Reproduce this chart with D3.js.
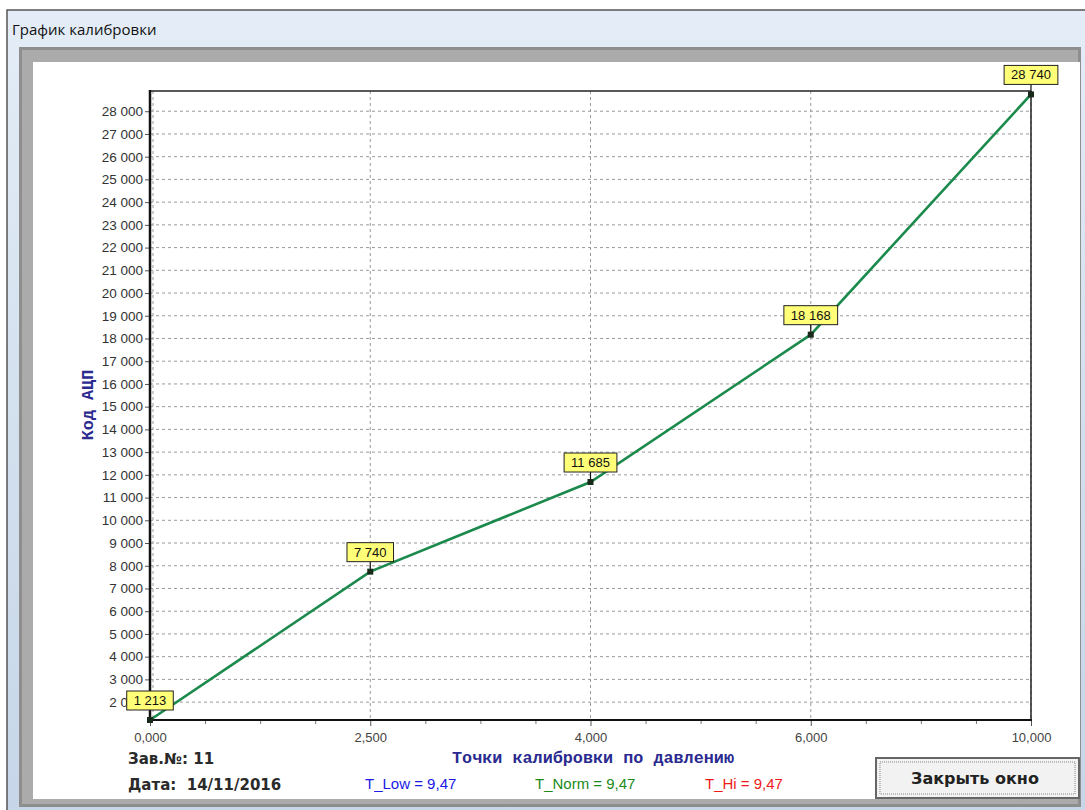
<!DOCTYPE html>
<html><head><meta charset="utf-8">
<script src="https://cdn.jsdelivr.net/npm/d3@7/dist/d3.min.js"></script>
<style>
html,body{margin:0;padding:0;background:#fff;}
svg{display:block;}
</style></head>
<body>
<svg id="c" width="1085" height="810"></svg>
<script>
// ---- data ----
const pressures = [0, 2.5, 4, 6, 10];
const codes = [1213, 7740, 11685, 18168, 28740];
const yTicks = d3.range(2000, 28001, 1000);
const windowTitle = "График калибровки";
const xTitle = "Точки калибровки по давлению";
const yTitle = "Код АЦП";
const serialText = "Зав.№: 11";
const dateText = "Дата:  14/11/2016";
const tempLabels = ["T_Low = 9,47", "T_Norm = 9,47", "T_Hi = 9,47"];
const buttonText = "Закрыть окно";

const loc = d3.formatLocale({decimal: ",", thousands: " ", grouping: [3], currency: ["", ""]});
const fmtInt = loc.format(",d");
const fmtP = loc.format(".3f");

const svg = d3.select("#c");

// ---- window chrome ----
const tg = svg.append("defs").append("linearGradient").attr("id","tb").attr("x1",0).attr("x2",0).attr("y1",0).attr("y2",1);
tg.append("stop").attr("offset","0%").attr("stop-color","#e4edf7");
tg.append("stop").attr("offset","50%").attr("stop-color","#d3e0ee");
tg.append("stop").attr("offset","100%").attr("stop-color","#c6d6e8");
svg.append("rect").attr("x",7).attr("y",10).attr("width",1085).attr("height",810).attr("fill","url(#tb)").attr("stroke","#555").attr("stroke-width",1.5);
svg.append("text").attr("x",12).attr("y",35).attr("font-family","Open Sans, Noto Sans, sans-serif").attr("font-size",15).attr("fill","#111").text(windowTitle);
svg.append("rect").attr("x",19).attr("y",47).attr("width",1062).attr("height",760).attr("fill","#8e8e8e");
svg.append("rect").attr("x",22).attr("y",50).attr("width",1056).attr("height",754).attr("fill","#ababab");
svg.append("rect").attr("x",33).attr("y",62).attr("width",1047).attr("height",737).attr("fill","#ffffff");

// ---- scales ----
const L = 150, R = 1031, T = 91, B = 720;
const x = d3.scaleLinear().domain([0, pressures.length - 1]).range([L, R]);
const y = d3.scaleLinear().domain([1213, 28890]).range([B, T]);

// grid
const grid = svg.append("g").attr("stroke","#9a9a9a").attr("stroke-width",1).attr("stroke-dasharray","3,3");
grid.selectAll("line.h").data(yTicks).join("line").attr("class","h")
  .attr("x1",L).attr("x2",R).attr("y1",d=>y(d)).attr("y2",d=>y(d));
grid.selectAll("line.v").data(d3.range(pressures.length)).join("line").attr("class","v")
  .attr("x1",d=>x(d)+(d===0?3:0)).attr("x2",d=>x(d)+(d===0?3:0)).attr("y1",T).attr("y2",B);

// y axis
const yAxis = svg.append("g").attr("transform",`translate(${L},0)`)
  .call(d3.axisLeft(y).tickValues(yTicks).tickFormat(fmtInt).tickSize(5).tickPadding(2));
yAxis.select(".domain").remove();
yAxis.selectAll("line").attr("stroke","#555");
yAxis.selectAll("text").attr("font-family","Arial, Liberation Sans, sans-serif").attr("font-size",13.5).attr("fill","#333");

// x axis
const minor = d3.range(0, pressures.length - 1 + 0.001, 0.25).filter(v => v % 1 !== 0);
const xMinor = svg.append("g").attr("transform",`translate(0,${B})`)
  .call(d3.axisBottom(x).tickValues(minor).tickFormat("").tickSize(4));
xMinor.select(".domain").remove();
xMinor.selectAll("line").attr("stroke","#777");
const xAxis = svg.append("g").attr("transform",`translate(0,${B})`)
  .call(d3.axisBottom(x).tickValues(d3.range(pressures.length)).tickFormat(i => fmtP(pressures[i])).tickSize(6).tickPadding(7));
xAxis.select(".domain").remove();
xAxis.selectAll("line").attr("stroke","#555");
xAxis.selectAll("text").attr("font-family","Arial, Liberation Sans, sans-serif").attr("font-size",13).attr("fill","#444");

// frame
svg.append("line").attr("x1",L).attr("x2",R).attr("y1",T).attr("y2",T).attr("stroke","#222").attr("stroke-width",1.5);
svg.append("line").attr("x1",R).attr("x2",R).attr("y1",T).attr("y2",B).attr("stroke","#222").attr("stroke-width",1.5);
svg.append("line").attr("x1",L).attr("x2",R+1).attr("y1",B).attr("y2",B).attr("stroke","#111").attr("stroke-width",2);
svg.append("line").attr("x1",L).attr("x2",L).attr("y1",T-1).attr("y2",B+1).attr("stroke","#111").attr("stroke-width",2.5);

// line
const pts = codes.map((c,i) => ({i, c}));
svg.append("path").datum(pts)
  .attr("d", d3.line().x(d=>x(d.i)).y(d=>y(d.c)))
  .attr("fill","none").attr("stroke","#1b8a4c").attr("stroke-width",2.6);

// markers and labels
const lab = svg.append("g").selectAll("g").data(pts).join("g");
lab.append("line").attr("x1",d=>x(d.i)).attr("x2",d=>x(d.i)).attr("y1",d=>y(d.c)-10).attr("y2",d=>y(d.c)).attr("stroke","#111").attr("stroke-width",1.2);
lab.append("rect").attr("x",d=>x(d.i)-3).attr("y",d=>y(d.c)-3).attr("width",6).attr("height",6).attr("fill","#1a2a1a");
lab.each(function(d){
  const g = d3.select(this);
  const t = g.append("text").attr("x",x(d.i)).attr("y",y(d.c)-15).attr("text-anchor","middle")
    .attr("font-family","Arial, Liberation Sans, sans-serif").attr("font-size",13).attr("fill","#111").text(fmtInt(d.c));
  const w = t.node().getComputedTextLength() + 14;
  g.insert("rect","text").attr("x",x(d.i)-w/2).attr("y",y(d.c)-29).attr("width",w).attr("height",19)
    .attr("fill","#ffff78").attr("stroke","#222").attr("stroke-width",1);
});

// axis titles
svg.append("text").attr("x",593).attr("y",763).attr("text-anchor","middle")
  .attr("font-family","Liberation Mono, DejaVu Sans Mono, monospace").attr("font-weight","bold").attr("font-size",16.8).attr("fill","#2a2a90").text(xTitle);
svg.append("text").attr("transform","translate(93,405) rotate(-90)").attr("text-anchor","middle")
  .attr("font-family","Liberation Mono, DejaVu Sans Mono, monospace").attr("font-weight","bold").attr("font-size",16.8).attr("fill","#2a2a90").text(yTitle);

// info texts
const infoFont = "DejaVu Sans, Verdana, sans-serif";
svg.append("text").attr("x",128).attr("y",764).attr("font-family",infoFont).attr("font-weight","bold").attr("font-size",15).attr("fill","#2a2a2a").text(serialText);
svg.append("text").attr("x",128).attr("y",790).attr("font-family",infoFont).attr("font-weight","bold").attr("font-size",15).attr("fill","#2a2a2a").style("white-space","pre").text(dateText);
const tempColors = ["#1a1ae6", "#1a8a1a", "#ee1a1a"];
const tempX = [365, 535, 705];
svg.selectAll("text.tmp").data(tempLabels).join("text").attr("class","tmp")
  .attr("x",(d,i)=>tempX[i]).attr("y",789).attr("font-family","Arial, Liberation Sans, sans-serif").attr("font-size",15)
  .attr("fill",(d,i)=>tempColors[i]).text(d=>d);

// button
svg.append("rect").attr("x",876).attr("y",758).attr("width",203).attr("height",40).attr("fill","#f2f2f2").attr("stroke","#666").attr("stroke-width",2);
svg.append("rect").attr("x",880).attr("y",762).attr("width",195).attr("height",32).attr("fill","none").attr("stroke","#888").attr("stroke-width",1).attr("stroke-dasharray","1,1");
svg.append("text").attr("x",975).attr("y",784).attr("text-anchor","middle").attr("font-family",infoFont).attr("font-weight","bold").attr("font-size",16).attr("fill","#222").text(buttonText);
</script>
</body></html>
